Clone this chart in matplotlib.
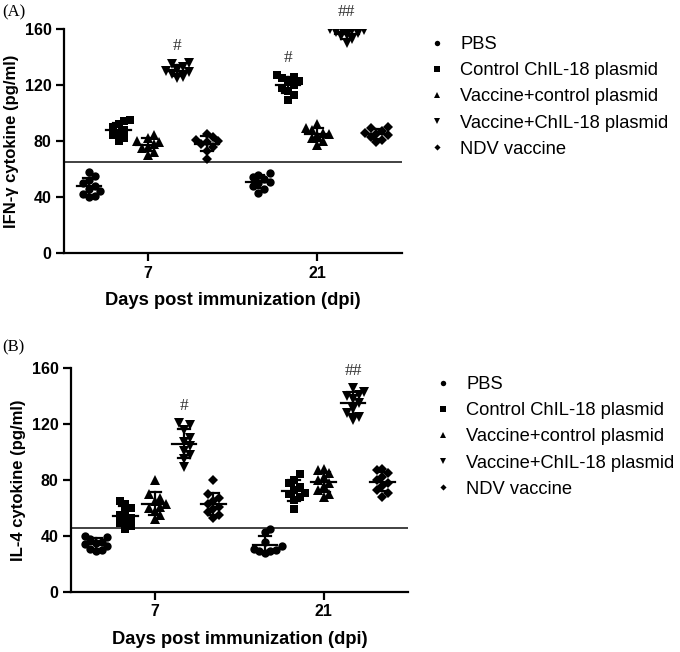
import numpy as np
import matplotlib
matplotlib.use("Agg")
import matplotlib.pyplot as plt
from matplotlib.lines import Line2D

plt.rcParams['font.family'] = ['Liberation Sans', 'DejaVu Sans']

groups = ["PBS", "Control ChIL-18 plasmid", "Vaccine+control plasmid",
          "Vaccine+ChIL-18 plasmid", "NDV vaccine"]
markers = ["o", "s", "^", "v", "D"]
days = ["7", "21"]

# Panel A: IFN-gamma (pg/ml), per day, per group
ifn_d7 = [
    [58, 55, 52, 50, 48, 46, 44, 42, 41, 40],
    [95, 94, 92, 90, 88, 86, 84, 82, 80],
    [84, 82, 80, 79, 78, 76, 75, 72, 70],
    [136, 135, 133, 131, 130, 129, 128, 126, 125],
    [85, 83, 81, 80, 79, 78, 76, 73, 67],
]
ifn_d21 = [
    [57, 56, 54, 53, 51, 50, 48, 46, 43],
    [127, 126, 125, 123, 122, 120, 118, 116, 113, 109],
    [92, 89, 88, 86, 85, 84, 82, 80, 77],
    [160, 159, 159, 158, 157, 156, 155, 153, 150],
    [90, 89, 87, 86, 85, 84, 83, 81, 79],
]
ifn_cutoff = 65
ifn_marks = [("7", 3, "#"), ("21", 1, "#"), ("21", 3, "##")]

# Panel B: IL-4 (pg/ml)
il4_d7 = [
    [40, 39, 38, 36, 35, 34, 33, 31, 30, 29],
    [65, 63, 60, 57, 55, 53, 51, 49, 47, 45],
    [80, 70, 67, 65, 63, 61, 60, 58, 55, 52],
    [121, 119, 116, 110, 107, 104, 101, 98, 95, 89],
    [80, 70, 67, 65, 63, 61, 59, 57, 55, 53],
]
il4_d21 = [
    [45, 43, 36, 33, 31, 30, 29, 29, 28],
    [84, 80, 78, 75, 73, 71, 70, 68, 66, 59],
    [88, 87, 85, 82, 80, 78, 76, 73, 70, 68],
    [146, 143, 141, 140, 138, 135, 131, 128, 125, 123],
    [88, 87, 85, 82, 80, 78, 76, 73, 71, 68],
]
il4_cutoff = 46
il4_marks = [("7", 3, "#"), ("21", 3, "##")]

yticks = [0, 40, 80, 120, 160]

DAY_POS = [0.0, 5.75]
GROUP_OFF = [-2, -1, 0, 1, 2]
msizes = [6.0, 5.8, 6.5, 6.5, 4.8]


def swarm(vals, xstep, ythr):
    order = np.argsort(vals)
    placed = []
    offs = np.zeros(len(vals))
    for i in order:
        y = vals[i]
        cands = [0.0]
        for n in range(1, 10):
            cands += [n * xstep, -n * xstep]
        for c in cands:
            ok = True
            for (px, py) in placed:
                if abs(px - c) < xstep * 0.95 and abs(py - y) < ythr:
                    ok = False
                    break
            if ok:
                offs[i] = c
                placed.append((c, y))
                break
    return offs


def panel(ax, d7, d21, cutoff, marks, ylabel):
    data = {"7": d7, "21": d21}
    for di, day in enumerate(days):
        for gi in range(5):
            vals = np.array(data[day][gi], dtype=float)
            xc = DAY_POS[di] + GROUP_OFF[gi]
            offs = swarm(vals, 0.19, 5.5)
            ax.plot(xc + offs, vals, linestyle="none", marker=markers[gi],
                    ms=msizes[gi], color="black", mew=0, zorder=3)
            m = vals.mean()
            sd = vals.std(ddof=1)
            ax.plot([xc - 0.42, xc + 0.42], [m, m], color="black", lw=1.6, zorder=4)
            ax.plot([xc, xc], [m - sd, m + sd], color="black", lw=1.6, zorder=4)
            for yy in (m - sd, m + sd):
                ax.plot([xc - 0.2, xc + 0.2], [yy, yy], color="black", lw=1.6, zorder=4)
    for day, gi, txt in marks:
        di = days.index(day)
        xc = DAY_POS[di] + GROUP_OFF[gi]
        top = max(data[day][gi])
        ax.text(xc, top + 12, txt, ha="center", va="center", fontsize=12.5,
                family="Liberation Serif", color="#333333", clip_on=False)
    ax.axhline(cutoff, color="#333333", lw=1.3, zorder=2)
    ax.set_xlim(-2.85, 8.62)
    ax.set_ylim(0, 160)
    ax.set_yticks(yticks)
    ax.set_xticks(DAY_POS)
    ax.set_xticklabels(days)
    for s in ("top", "right"):
        ax.spines[s].set_visible(False)
    for s in ("left", "bottom"):
        ax.spines[s].set_linewidth(1.6)
    ax.tick_params(axis="both", width=1.6, length=6, labelsize=11.5, pad=3)
    for lab in ax.get_xticklabels() + ax.get_yticklabels():
        lab.set_fontweight("bold")
    ax.set_ylabel(ylabel, fontsize=12, fontweight="bold", labelpad=4)
    ax.set_xlabel("Days post immunization (dpi)", fontsize=13.2, fontweight="bold", labelpad=8)
    handles = [Line2D([], [], linestyle="none", marker=markers[i], color="black",
                      ms=msizes[i] * 0.65, mew=0) for i in range(5)]
    return handles


fig = plt.figure(figsize=(6.8, 6.52), dpi=100)
W, H = 680.0, 652.0

axA = fig.add_axes([64 / W, 1 - 253 / H, (402 - 64) / W, (253 - 29) / H])
hA = panel(axA, ifn_d7, ifn_d21, ifn_cutoff, ifn_marks, "IFN-γ cytokine (pg/ml)")
axB = fig.add_axes([71 / W, 1 - 592 / H, (408 - 71) / W, (592 - 368) / H])
hB = panel(axB, il4_d7, il4_d21, il4_cutoff, il4_marks, "IL-4 cytokine (pg/ml)")

fig.text(2 / W, 1 - 12 / H, "(A)", family="Liberation Serif", fontsize=12, va="center", ha="left")
fig.text(2 / W, 1 - 347 / H, "(B)", family="Liberation Serif", fontsize=12, va="center", ha="left")

for h, (lx, ly) in ((hA, (428, 36)), (hB, (434, 376))):
    fig.legend(h, groups, loc="upper left", bbox_to_anchor=(lx / W, 1 - ly / H),
               frameon=False, fontsize=13.2, handlelength=1.0, handletextpad=0.75,
               labelspacing=0.5, borderpad=0, borderaxespad=0)

fig.savefig("out.png", dpi=100)
